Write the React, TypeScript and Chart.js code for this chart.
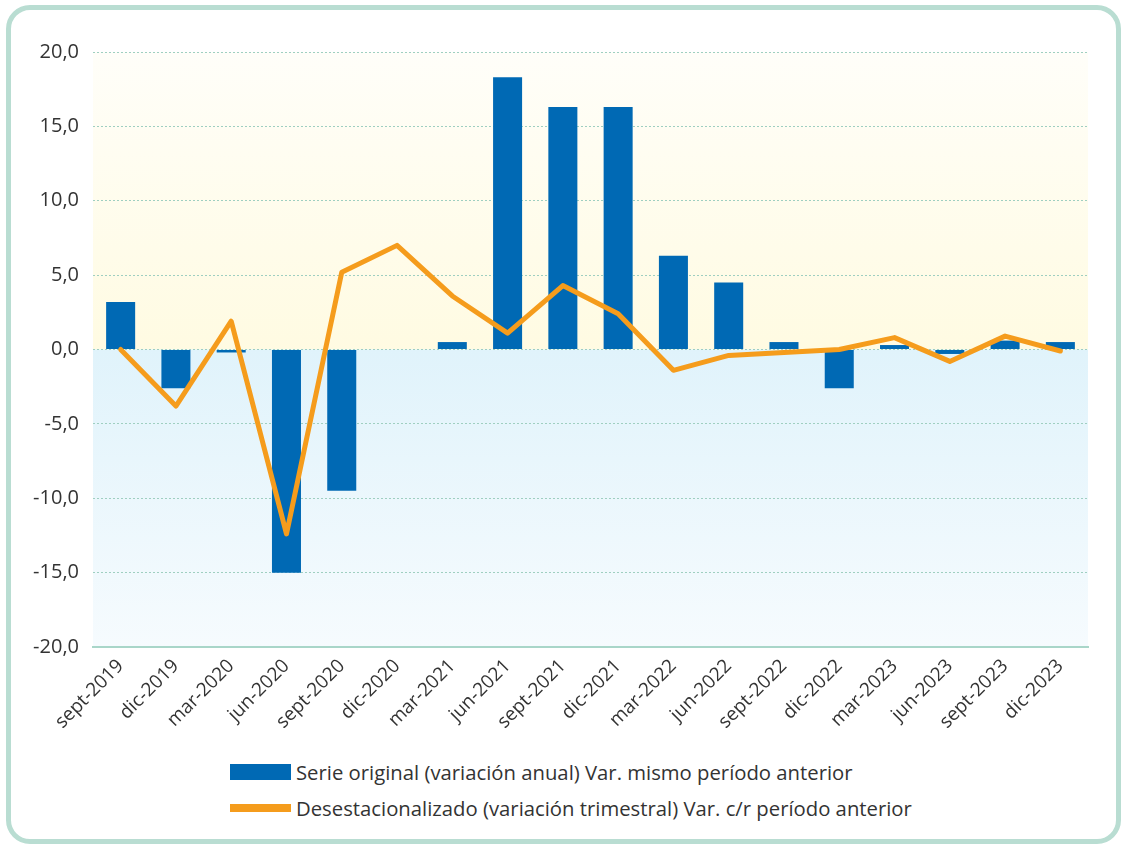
import React, { useEffect, useRef } from "react";
import { Chart, registerables } from "chart.js";

Chart.register(...registerables);

const categories = [
  "sept-2019", "dic-2019", "mar-2020", "jun-2020", "sept-2020", "dic-2020",
  "mar-2021", "jun-2021", "sept-2021", "dic-2021", "mar-2022", "jun-2022",
  "sept-2022", "dic-2022", "mar-2023", "jun-2023", "sept-2023", "dic-2023",
];

const serieOriginal = [
  3.2, -2.6, -0.2, -15.0, -9.5, 0.0,
  0.5, 18.3, 16.3, 16.3, 6.3, 4.5,
  0.5, -2.6, 0.3, -0.3, 0.6, 0.5,
];

const desestacionalizado = [
  0.0, -3.8, 1.9, -12.4, 5.2, 7.0,
  3.6, 1.1, 4.3, 2.4, -1.4, -0.4,
  -0.2, 0.0, 0.8, -0.8, 0.9, -0.1,
];

const yTicks = [-20, -15, -10, -5, 0, 5, 10, 15, 20];

const legendLabels = [
  "Serie original (variación anual) Var. mismo período anterior",
  "Desestacionalizado (variación trimestral) Var. c/r período anterior",
];

const BLUE = "#0069b4";
const ORANGE = "#f59c1c";
const FONT = "'Open Sans', 'Noto Sans', sans-serif";

const bgPlugin = {
  id: "bgBands",
  beforeDraw(chart: any) {
    const { ctx, chartArea, scales } = chart;
    if (!chartArea) return;
    const y = scales.y;
    const yTop = y.getPixelForValue(yTicks[yTicks.length - 1]);
    const yZero = y.getPixelForValue(0);
    const yBot = y.getPixelForValue(yTicks[0]);
    ctx.save();
    const g1 = ctx.createLinearGradient(0, yTop, 0, yZero);
    g1.addColorStop(0, "#fffef9");
    g1.addColorStop(1, "#fffbe2");
    ctx.fillStyle = g1;
    ctx.fillRect(chartArea.left, yTop, chartArea.right - chartArea.left, yZero - yTop);
    const g2 = ctx.createLinearGradient(0, yZero, 0, yBot);
    g2.addColorStop(0, "#e0f3fb");
    g2.addColorStop(1, "#f6fbfe");
    ctx.fillStyle = g2;
    ctx.fillRect(chartArea.left, yZero, chartArea.right - chartArea.left, yBot - yZero);
    ctx.restore();
  },
};

export default function App() {
  const ref = useRef<HTMLCanvasElement | null>(null);

  useEffect(() => {
    if (!ref.current) return;
    const chart = new Chart(ref.current, {
      type: "bar",
      data: {
        labels: categories,
        datasets: [
          {
            type: "line",
            label: legendLabels[1],
            data: desestacionalizado,
            borderColor: ORANGE,
            backgroundColor: ORANGE,
            borderWidth: 5,
            pointRadius: 0,
            tension: 0,
            borderJoinStyle: "round",
            borderCapStyle: "round",
            order: 0,
          } as any,
          {
            type: "bar",
            label: legendLabels[0],
            data: serieOriginal,
            backgroundColor: BLUE,
            borderWidth: 0,
            barPercentage: 0.525,
            categoryPercentage: 1,
            order: 1,
          } as any,
        ],
      },
      options: {
        responsive: false,
        animation: false,
        devicePixelRatio: 1,
        layout: { padding: { top: 52, right: 33, left: 0, bottom: 0 } },
        plugins: {
          legend: { display: false },
          tooltip: { enabled: false },
        },
        scales: {
          x: {
            grid: { display: false, drawTicks: false },
            border: { display: true, color: "#a9d6c9", width: 2 },
            ticks: {
              autoSkip: false,
              maxRotation: 45,
              minRotation: 45,
              padding: 8,
              color: "#333333",
              font: { family: FONT, size: 19 },
            },
            afterFit(scale: any) {
              scale.height = 103;
            },
          },
          y: {
            min: -20,
            max: 20,
            afterBuildTicks(scale: any) {
              scale.ticks = yTicks.map((v) => ({ value: v }));
            },
            grid: { color: "#9fcfc1", lineWidth: 1, drawTicks: false },
            border: { display: false, dash: [2, 2] },
            ticks: {
              padding: 14,
              color: "#333333",
              font: { family: FONT, size: 20 },
              callback: (v: any) => Number(v).toFixed(1).replace(".", ","),
            },
            afterFit(scale: any) {
              scale.width = 93;
            },
          },
        },
      },
      plugins: [bgPlugin],
    });
    return () => chart.destroy();
  }, []);

  const legendItem = (i: number, top: number, boxTop: number, boxH: number, color: string) => (
    <div key={i}>
      <div
        style={{
          position: "absolute",
          left: 230,
          top: boxTop,
          width: 61,
          height: boxH,
          background: color,
        }}
      />
      <div
        style={{
          position: "absolute",
          left: 296,
          top: top,
          height: 30,
          lineHeight: "30px",
          fontFamily: FONT,
          fontSize: 20.3,
          color: "#333333",
          whiteSpace: "nowrap",
        }}
      >
        {legendLabels[i]}
      </div>
    </div>
  );

  return (
    <div
      style={{
        position: "fixed",
        left: 0,
        top: 0,
        width: 1121,
        height: 844,
        background: "#ffffff",
        overflow: "hidden",
      }}
    >
      <div
        style={{
          position: "absolute",
          left: 6,
          top: 5,
          width: 1115,
          height: 839,
          boxSizing: "border-box",
          border: "5px solid #b9ddd2",
          borderRadius: 24,
        }}
      />
      <canvas
        ref={ref}
        width={1121}
        height={750}
        style={{ position: "absolute", left: 0, top: 0, width: 1121, height: 750 }}
      />
      {legendItem(0, 757, 764, 16, BLUE)}
      {legendItem(1, 793, 804, 8, ORANGE)}
    </div>
  );
}
